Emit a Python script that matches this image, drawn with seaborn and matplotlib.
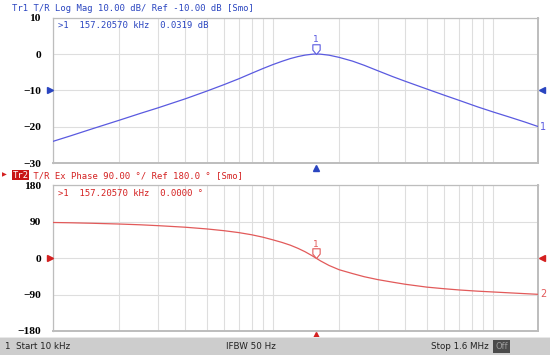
import numpy as np
import pandas as pd
import matplotlib
matplotlib.use("Agg")
import matplotlib.pyplot as plt
from matplotlib.ticker import LogLocator, NullFormatter, FixedLocator
from matplotlib.path import Path
import matplotlib.transforms as mtransforms
import seaborn as sns

# ---------------- data ----------------
freq_khz = [10, 12, 15, 20, 25, 30, 40, 50, 60, 70, 80, 90, 100, 110, 120, 130, 140, 150,
            157.20570, 165, 180, 200, 230, 260, 300, 350, 400, 500, 600, 700, 850, 1000,
            1200, 1400, 1600]
mag_db = [-24.0, -22.5, -20.6, -18.2, -16.3, -14.8, -12.3, -10.2, -8.4, -6.8, -5.3, -4.0,
          -2.9, -2.0, -1.25, -0.7, -0.3, -0.07, 0.0319, -0.05, -0.32, -0.92, -1.95, -3.1,
          -4.6, -6.2, -7.5, -9.6, -11.3, -12.7, -14.5, -15.9, -17.4, -18.7, -19.9]
phase_deg = [88.3, 87.6, 86.4, 84.5, 82.6, 80.5, 76.6, 72.4, 68.0, 63.3, 58.0, 52.0,
             45.4, 39.0, 32.2, 24.4, 16.0, 6.8, 0.0, -7.0, -18.0, -28.5, -38.0, -45.8,
             -53.0, -59.3, -64.5, -71.5, -75.5, -78.5, -81.5, -83.5, -85.8, -87.7, -89.3]

marker_freq = 157.20570
marker_mag = 0.0319
marker_phase = 0.0

mag_ticks = [-30, -20, -10, 0, 10]
phase_ticks = [-180, -90, 0, 90, 180]
mag_ref = -10
phase_ref = 0

title1 = "Tr1 T/R Log Mag 10.00 dB/ Ref -10.00 dB [Smo]"
title2 = " T/R Ex Phase 90.00 \u00b0/ Ref 180.0 \u00b0 [Smo]"
readout1 = ">1  157.20570 kHz  0.0319 dB"
readout2 = ">1  157.20570 kHz  0.0000 \u00b0"
status_left = "1  Start 10 kHz"
status_mid = "IFBW 50 Hz"
status_right = "Stop 1.6 MHz"

df = pd.DataFrame({"freq": freq_khz, "mag": mag_db, "phase": phase_deg})

# ---------------- style ----------------
sns.set_theme(style="white")
plt.rcParams["font.family"] = ["DejaVu Sans"]
plt.rcParams["axes.unicode_minus"] = True

BLUE_TXT = "#2a45c0"
BLUE_LN = "#5a5ae0"
RED_TXT = "#d42020"
RED_LN = "#e25a5a"
GRID = "#dedede"
SPINE = "#bdbdbd"

fig = plt.figure(figsize=(5.5, 3.55), dpi=100)
W, H = 550.0, 355.0
left = 52.7 / W
width = (538.0 - 52.7) / W
ax1 = fig.add_axes([left, 1 - 163.3 / H, width, (163.3 - 17.6) / H])
ax2 = fig.add_axes([left, 1 - 331.0 / H, width, (331.0 - 185.4) / H])

# status bar
fig.patches.append(plt.Rectangle((0, 0), 1, 17 / H, transform=fig.transFigure,
                                 facecolor="#cdcdcd", edgecolor="none", zorder=0))
fig.patches.append(plt.Rectangle((0, 17 / H), 1, 1 / H, transform=fig.transFigure,
                                 facecolor="#e8e8e8", edgecolor="none", zorder=0))
fig.patches.append(plt.Rectangle((493 / W, 2 / H), 17 / W, 13 / H, transform=fig.transFigure,
                                 facecolor="#4a4a4a", edgecolor="none", zorder=1))
sfont = dict(family="DejaVu Sans", fontsize=6.3, color="#222222", va="center")
fig.text(5 / W, 8.5 / H, status_left, ha="left", **sfont)
fig.text(251 / W, 8.5 / H, status_mid, ha="center", **sfont)
fig.text(489 / W, 8.5 / H, status_right, ha="right", **sfont)
fig.text(501.5 / W, 8.5 / H, "Off", ha="center", family="DejaVu Sans", fontsize=6,
         color="#9a9a9a", va="center")

mono = dict(family="DejaVu Sans Mono", fontsize=6.4)

# marker glyph: tip at data point, body above
mverts = [(-1.5, 4.0), (1.5, 4.0), (1.5, 1.8), (0.0, 0.0), (-1.5, 1.8), (-1.5, 4.0)]
mcodes = [Path.MOVETO, Path.LINETO, Path.LINETO, Path.LINETO, Path.LINETO, Path.CLOSEPOLY]
mpath = Path(mverts, mcodes)


def ycol_last(col):
    return df[col].iloc[-1]


def setup(ax, ylim, yticks, ln_col, txt_col, ycol, ref, mk_y, readout, endlabel):
    sns.lineplot(data=df, x="freq", y=ycol, ax=ax, color=ln_col, lw=0.9, zorder=3)
    ax.set_xscale("log")
    ax.set_xlim(freq_khz[0], freq_khz[-1])
    ax.set_ylim(*ylim)
    ax.xaxis.set_major_locator(LogLocator(base=10))
    ax.xaxis.set_minor_locator(LogLocator(base=10, subs=np.arange(2, 10)))
    ax.xaxis.set_major_formatter(NullFormatter())
    ax.xaxis.set_minor_formatter(NullFormatter())
    ax.yaxis.set_major_locator(FixedLocator(yticks))
    ax.set_yticklabels([str(t).replace("-", "\u2212") for t in yticks])
    ax.grid(True, which="both", color=GRID, lw=0.8, zorder=0)
    ax.tick_params(axis="both", which="both", length=0)
    ax.tick_params(axis="y", pad=8.5)
    for lab in ax.get_yticklabels():
        lab.set_fontfamily("Liberation Serif")
        lab.set_fontweight("bold")
        lab.set_fontsize(8.2)
        lab.set_color("black")
    ax.set_xlabel("")
    ax.set_ylabel("")
    for s in ax.spines.values():
        s.set_color(SPINE)
        s.set_linewidth(0.9)
    ax.spines["right"].set_linewidth(1.4)
    ax.spines["bottom"].set_linewidth(1.4)

    trans = mtransforms.blended_transform_factory(ax.transAxes, ax.transData)
    ax.plot([-0.006], [ref], marker=">", ms=4.5, color=txt_col, transform=trans,
            clip_on=False, lw=0, zorder=5)
    ax.plot([1.008], [ref], marker="<", ms=4.5, color=txt_col, transform=trans,
            clip_on=False, lw=0, zorder=5)
    transb = mtransforms.blended_transform_factory(ax.transData, ax.transAxes)
    ax.plot([marker_freq], [-0.03], marker="^", ms=4.5, color=txt_col, transform=transb,
            clip_on=False, lw=0, zorder=5)
    # marker at data point
    ax.plot([marker_freq], [mk_y], marker=mpath, ms=14, mfc="white", mec=ln_col,
            mew=0.8, lw=0, zorder=6)
    ax.annotate("1", (marker_freq, mk_y), xytext=(0, 6.8), textcoords="offset points",
                ha="center", va="bottom", color=ln_col, family="DejaVu Sans", fontsize=6.5)
    ax.text(0.010, 0.975, readout, transform=ax.transAxes, ha="left", va="top",
            color=txt_col, **mono)
    ax.text(1.004, ycol_last(ycol), endlabel, transform=trans, ha="left", va="center",
            color=ln_col, family="DejaVu Sans", fontsize=7)


setup(ax1, (-30, 10), mag_ticks, BLUE_LN, BLUE_TXT, "mag", mag_ref, marker_mag,
      readout1, "1")
setup(ax2, (-180, 180), phase_ticks, RED_LN, RED_TXT, "phase", phase_ref, marker_phase,
      readout2, "2")

# trace headers
HY = 175.2
fig.text(12 / W, 1 - 8.5 / H, title1, ha="left", va="center", color=BLUE_TXT, **mono)
fig.text(2 / W, 1 - HY / H, "\u25b6", ha="left", va="center", color=RED_TXT,
         family="DejaVu Sans", fontsize=4.5)
fig.text(12.5 / W, 1 - HY / H, "Tr2", ha="left", va="center", color="white",
         bbox=dict(boxstyle="square,pad=0.05", fc="#c81414", ec="none"),
         **mono)
fig.text(28 / W, 1 - HY / H, title2, ha="left", va="center", color=RED_TXT, **mono)

fig.savefig("out.png", dpi=100)
